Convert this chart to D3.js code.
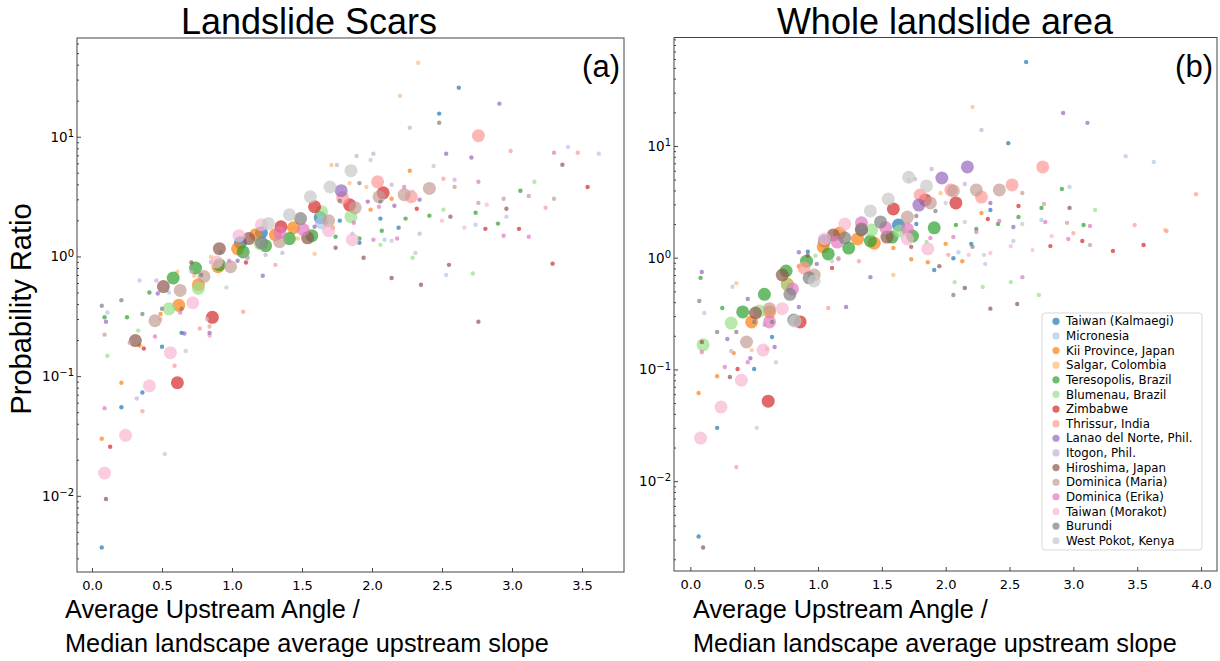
<!DOCTYPE html>
<html>
<head>
<meta charset="utf-8">
<script src="https://cdn.jsdelivr.net/npm/d3@7"></script>
<style>
  body { margin: 0; background: #fff; }
  svg { display: block; }
</style>
</head>
<body>
<div id="chart"></div>
<script>
// sites, in legend order
const sites = ["Taiwan (Kalmaegi)", "Micronesia", "Kii Province, Japan", "Salgar, Colombia",
  "Teresopolis, Brazil", "Blumenau, Brazil", "Zimbabwe", "Thrissur, India",
  "Lanao del Norte, Phil.", "Itogon, Phil.", "Hiroshima, Japan", "Dominica (Maria)",
  "Dominica (Erika)", "Taiwan (Morakot)", "Burundi", "West Pokot, Kenya"];

const siteColors = ["#1f77b4", "#aec7e8", "#ff7f0e", "#ffbb78", "#2ca02c", "#98df8a", "#d62728", "#ff9896",
  "#9467bd", "#c5b0d5", "#8c564b", "#c49c94", "#e377c2", "#f7b6d2", "#7f7f7f", "#c7c7c7"];

// [angle ratio, probability ratio, large marker?] per site, panel (a)
const scarsPoints = [
  [[1.63,2.11,1],[1.21,1.58,1],[1.06,1.30,1],[2.62,25.7,0],[2.48,15.6,0],[1.77,1.99,0],[2.06,2.07,0],[2.19,1.74,0],[1.91,1.30,0],[0.64,0.23,0],[0.50,0.176,0],[0.36,0.073,0],[0.21,0.055,0],[0.07,0.0037,0]],
  [[1.64,1.91,1],[3.40,8.2,0],[3.62,7.2,0],[2.96,2.15,0],[2.74,1.84,0],[2.31,1.07,0],[2.53,0.70,0],[2.09,1.38,0],[1.86,1.55,0],[0.11,0.34,0],[0.34,0.63,0],[0.55,0.50,0]],
  [[1.44,1.74,1],[1.31,1.52,1],[1.17,1.52,1],[1.04,1.16,1],[0.90,0.82,1],[0.76,0.58,1],[0.62,0.39,1],[2.14,3.03,0],[1.99,2.46,0],[2.27,5.2,0],[1.72,1.74,0],[0.49,0.33,0],[0.34,0.18,0],[0.21,0.088,0],[0.07,0.030,0]],
  [[2.33,41.5,0],[2.20,22,0],[1.71,5.8,0],[1.84,4.1,0],[1.96,3.8,0],[1.59,1.05,0],[0.61,0.745,0],[0.73,0.69,0],[0.85,0.99,0],[0.49,0.30,0],[1.47,1.41,0]],
  [[1.57,1.49,1],[1.41,1.41,1],[1.24,1.23,1],[1.08,1.09,1],[0.91,0.85,1],[0.74,0.80,1],[0.58,0.66,1],[3.06,3.54,0],[2.41,2.19,0],[2.24,2.07,0],[2.74,2.32,0],[2.90,1.88,0],[2.07,1.64,0],[1.74,1.46,0],[1.91,1.41,0],[0.09,0.31,0],[0.25,0.31,0],[0.41,0.50,0]],
  [[1.85,2.15,1],[1.64,2.36,1],[1.20,1.28,1],[0.76,0.54,1],[0.55,0.365,1],[3.16,4.2,0],[2.51,2.46,0],[2.06,1.25,0],[2.29,0.975,0],[2.72,0.72,0],[0.33,0.24,0],[0.11,0.148,0]],
  [[2.08,3.4,1],[1.84,2.7,1],[1.59,2.6,1],[1.35,1.77,1],[0.86,0.31,1],[0.61,0.088,1],[3.54,3.8,0],[2.32,2.5,0],[2.81,1.70,0],[3.05,1.70,0],[3.29,0.87,0],[1.10,0.89,0],[0.37,0.17,0],[0.13,0.0257,0]],
  [[2.76,10.2,1],[2.04,4.2,1],[1.79,3.09,1],[2.28,3.15,1],[2.99,7.6,0],[3.47,7.35,0],[2.51,4.46,0],[3.24,2.55,0],[1.08,0.345,0],[1.31,0.85,0],[0.77,0.25,0],[0.84,0.26,0],[0.84,0.218,0],[0.36,0.051,0],[0.59,0.122,0]],
  [[1.78,3.54,1],[2.91,18.9,0],[2.53,7.2,0],[2.71,6.7,0],[1.97,2.87,0],[2.16,2.65,0],[2.34,2.98,0],[1.59,1.77,0],[0.10,0.285,0],[0.47,0.49,0],[1.04,0.92,0],[1.22,0.69,0],[0.66,0.227,0],[0.84,0.23,0]],
  [[2.27,11.9,0],[1.89,6.9,0],[2.01,7.2,0],[1.75,5.8,0],[2.59,4.37,0],[2.14,3.97,0],[2.34,1.55,0],[0.46,0.63,0],[0.71,0.745,0],[0.85,0.90,0],[1.24,1.03,0],[1.36,1.07,0],[0.32,0.065,0]],
  [[1.54,1.43,1],[1.12,1.41,1],[0.91,1.16,1],[0.51,0.56,1],[0.31,0.198,1],[3.36,5.84,0],[2.96,2.5,0],[2.56,2.15,0],[1.74,1.18,0],[1.94,0.975,0],[2.55,0.85,0],[2.14,0.66,0],[2.35,0.58,0],[2.76,0.285,0],[0.10,0.0094,0],[0.71,0.89,0]],
  [[2.05,3.15,1],[1.88,2.55,1],[1.69,1.99,1],[1.34,1.33,1],[0.99,0.82,1],[0.80,0.68,1],[0.63,0.52,1],[0.45,0.29,1],[2.41,3.7,1],[2.23,3.28,1],[2.59,3.8,0],[3.12,3.2,0],[2.94,3.03,0],[3.30,3.03,0],[2.76,2.8,0],[0.09,0.222,0],[0.27,0.19,0],[1.10,1.01,0]],
  [[1.51,1.67,1],[1.34,1.58,1],[3.30,7.35,0],[2.76,4.2,0],[2.23,3.8,0],[2.05,2.6,0],[1.87,1.91,0],[2.94,1.49,0],[3.12,1.46,0],[2.01,1.38,0],[2.18,1.41,0],[0.63,0.34,0],[0.98,0.92,0],[0.45,0.214,0],[0.09,0.054,0]],
  [[1.86,1.38,1],[1.69,1.64,1],[1.21,1.84,1],[1.05,1.49,1],[0.89,0.90,1],[0.72,0.41,1],[0.56,0.157,1],[0.41,0.083,1],[0.24,0.032,1],[0.09,0.0155,1],[2.82,2.7,0],[2.50,1.99,0],[2.66,1.74,0]],
  [[1.49,2.07,1],[1.21,1.30,1],[2.48,13.1,0],[1.91,4.1,0],[1.77,2.92,0],[2.06,2.87,0],[0.07,0.387,0],[0.21,0.43,0],[0.36,0.33,0],[0.50,0.365,0],[0.64,0.365,0],[0.78,0.70,0],[0.92,1.09,0],[1.11,0.975,0]],
  [[1.85,5.2,1],[1.70,3.8,1],[1.56,3.15,1],[1.41,2.23,1],[1.26,1.88,1],[2.44,5.7,0],[1.99,6.4,0],[2.29,3.47,0],[2.14,1.35,0],[0.96,0.55,0],[0.67,0.162,0],[0.52,0.0224,0],[0.82,0.30,0],[1.11,0.96,0]]
];

// same, panel (b)
const wholePoints = [
  [[1.63,1.96,1],[1.05,1.41,1],[2.63,56.5,0],[2.49,10.6,0],[2.35,2.67,0],[2.20,1.33,0],[2.06,0.99,0],[1.91,0.776,0],[0.64,0.195,0],[0.50,0.101,0],[0.21,0.030,0],[0.065,0.0032,0],[0.92,1.13,0],[1.77,2.0,0]],
  [[3.41,8.1,0],[3.63,7.2,0],[2.97,4.3,0],[2.75,2.18,0],[2.53,1.41,0],[2.10,1.12,0],[2.31,0.88,0],[0.11,0.32,0],[0.33,0.55,0]],
  [[1.17,1.66,1],[1.31,1.47,1],[1.44,1.35,1],[1.04,1.25,1],[0.76,0.58,1],[0.62,0.327,1],[0.48,0.266,1],[2.28,2.51,0],[2.0,1.33,0],[1.86,0.91,0],[1.73,0.97,0],[1.59,1.22,0],[2.13,0.93,0],[0.85,0.84,0],[0.34,0.14,0],[0.21,0.087,0],[0.065,0.0615,0]],
  [[2.21,22.3,0],[1.96,3.79,0],[1.71,4.96,0],[0.36,0.59,0],[0.48,0.149,0],[1.59,0.70,0],[3.72,1.77,0]],
  [[1.91,1.85,1],[1.74,1.56,1],[1.58,1.53,1],[1.41,1.41,1],[1.24,1.22,1],[1.08,1.08,1],[0.91,0.93,1],[0.75,0.76,1],[0.58,0.47,1],[0.41,0.327,1],[2.91,4.12,0],[2.75,2.79,0],[2.57,2.31,0],[3.08,1.96,0],[2.24,1.81,0],[2.08,1.96,0],[2.41,2.0,0],[0.08,0.66,0],[0.25,0.355,0]],
  [[1.42,1.77,1],[1.64,1.73,1],[0.76,0.57,1],[0.54,0.333,1],[0.32,0.26,1],[0.10,0.166,1],[3.17,2.67,0],[2.07,0.605,0],[2.29,0.547,0],[2.51,0.605,0],[2.73,0.464,0],[1.85,1.38,0],[0.98,1.04,0]],
  [[1.84,3.29,1],[1.59,2.73,1],[2.08,3.09,1],[0.86,0.266,1],[0.61,0.052,1],[2.57,2.9,0],[2.33,2.22,0],[2.82,1.27,0],[3.07,1.41,0],[3.31,1.15,0],[3.55,1.3,0],[1.11,0.81,0],[0.37,0.101,0]],
  [[2.76,6.49,1],[2.52,4.48,1],[2.28,3.49,1],[2.04,4.04,1],[1.80,3.64,1],[0.89,0.81,1],[3.96,3.7,0],[3.48,1.96,0],[3.73,1.73,0],[3.0,1.66,0],[1.08,0.355,0],[1.32,0.93,0],[2.02,1.06,0],[0.60,0.152,0],[0.36,0.0134,0]],
  [[2.17,6.49,1],[1.97,5.17,1],[1.79,2.96,1],[2.92,19.7,0],[3.11,16.1,0],[2.35,3.09,0],[2.53,1.88,0],[0.85,0.362,0],[1.22,0.362,0],[1.41,0.67,0],[0.99,0.88,0],[0.85,1.12,0],[0.45,0.427,0],[0.09,0.745,0],[0.29,0.187,0],[0.66,0.159,0],[0.47,0.126,0]],
  [[2.28,13.9,0],[1.89,6.22,0],[2.15,4.57,0],[1.76,5.07,0],[1.16,0.97,0],[0.58,0.25,0],[0.32,0.146,0]],
  [[1.12,1.6,1],[1.54,1.53,1],[1.34,1.77,1],[0.72,0.70,1],[0.51,0.32,1],[2.97,2.79,0],[2.15,0.535,0],[2.35,0.35,0],[2.56,0.385,0],[1.95,0.84,0],[1.73,1.25,0],[0.92,1.04,0],[0.09,0.176,0],[0.31,0.0855,0],[0.10,0.00255,0]],
  [[2.24,4.04,1],[2.42,4.04,1],[2.06,3.96,1],[1.88,3.09,1],[1.70,2.31,1],[0.97,0.70,1],[0.62,0.35,1],[0.44,0.176,1],[2.60,3.79,0],[2.77,3.03,0],[2.95,2.05,0],[3.13,1.3,0],[1.16,0.99,0]],
  [[1.34,2.05,1],[1.15,1.38,1],[1.70,1.81,1],[0.80,0.525,1],[0.62,0.266,1],[1.53,1.85,1],[2.42,2.13,0],[2.24,1.70,0],[2.06,1.53,0],[1.88,1.50,0],[2.78,2.09,0],[2.96,1.47,0],[3.13,1.92,0],[2.60,0.67,0],[0.09,0.143,0],[0.27,0.105,0],[0.45,0.116,0]],
  [[1.21,2.0,1],[1.86,1.2,1],[1.70,1.47,1],[1.05,1.47,1],[0.72,0.35,1],[0.57,0.149,1],[0.40,0.080,1],[0.24,0.046,1],[0.08,0.0243,1],[2.83,1.56,0],[2.68,1.17,0],[2.51,1.27,0],[2.35,1.1,0],[2.18,1.06,0]],
  [[1.49,2.09,1],[1.34,1.81,1],[1.21,1.5,1],[0.93,0.66,1],[0.78,0.47,1],[0.81,0.277,1],[1.92,2.62,0],[1.77,2.36,0],[2.21,1.25,0],[2.06,0.464,0],[0.07,0.41,0],[0.21,0.216,0],[0.36,0.216,0],[0.50,0.266,0],[0.64,0.266,0]],
  [[1.71,5.25,1],[1.85,4.39,1],[1.55,3.35,1],[1.41,2.62,1],[0.97,0.62,1],[0.82,0.271,1],[2.0,3.09,0],[2.15,2.09,0],[2.60,2.0,0],[2.30,1.06,0],[1.11,0.93,0],[0.67,0.116,0],[0.52,0.030,0]]
];

const scarsXTicks = [0, 0.5, 1, 1.5, 2, 2.5, 3, 3.5];
const wholeXTicks = [0, 0.5, 1, 1.5, 2, 2.5, 3, 3.5, 4];
const yTicks = [0.01, 0.1, 1, 10];

const W = 1220, H = 661;
const svg = d3.select("#chart").append("svg")
  .attr("width", W).attr("height", H)
  .style("font-family", "'Liberation Sans', Arial, sans-serif");

const tickFont = "'DejaVu Sans', sans-serif";

function drawPanel(p) {
  const x = d3.scaleLinear().domain(p.xDomain).range([p.left, p.right]);
  const y = d3.scaleLog().domain(p.yDomain).range([p.bottom, p.top]);
  const g = svg.append("g");

  // minor log ticks
  const minor = [];
  for (let k = -4; k <= 2; k++) {
    for (let m = 2; m <= 9; m++) {
      const v = m * Math.pow(10, k);
      if (v > p.yDomain[0] && v < p.yDomain[1]) minor.push(v);
    }
  }
  g.append("g")
    .attr("transform", `translate(${p.left},0)`)
    .call(d3.axisLeft(y).tickValues(minor).tickSize(-2).tickFormat(""))
    .call(s => s.select(".domain").remove())
    .call(s => s.selectAll("line").attr("stroke", "#444"));

  const yAxis = g.append("g")
    .attr("transform", `translate(${p.left},0)`)
    .call(d3.axisLeft(y).tickValues(yTicks).tickSize(-4).tickPadding(3).tickFormat(""))
    .call(s => s.select(".domain").remove())
    .call(s => s.selectAll("line").attr("stroke", "#444"));
  yAxis.selectAll(".tick text")
    .attr("font-family", tickFont).attr("font-size", 13.5).attr("fill", "#000")
    .each(function(d) {
      const e = Math.round(Math.log10(d));
      const t = d3.select(this);
      t.append("tspan").text("10");
      t.append("tspan").attr("dy", "-0.45em").attr("font-size", 10)
        .text(e < 0 ? "\u2212" + (-e) : String(e));
    });

  g.append("g")
    .attr("transform", `translate(0,${p.bottom})`)
    .call(d3.axisBottom(x).tickValues(p.xTicks).tickSize(-4).tickPadding(9).tickFormat(d3.format(".1f")))
    .call(s => s.select(".domain").remove())
    .call(s => s.selectAll("line").attr("stroke", "#444"))
    .call(s => s.selectAll("text").attr("font-family", tickFont).attr("font-size", 13).attr("fill", "#000"));

  // points, site by site
  p.points.forEach((pts, i) => {
    g.append("g").selectAll("circle")
      .data(pts)
      .join("circle")
      .attr("cx", d => x(d[0]))
      .attr("cy", d => y(d[1]))
      .attr("r", d => d[2] ? 6.5 : 2.2)
      .attr("fill", siteColors[i])
      .attr("fill-opacity", 0.7);
  });

  g.append("rect")
    .attr("x", p.left).attr("y", p.top)
    .attr("width", p.right - p.left).attr("height", p.bottom - p.top)
    .attr("fill", "none").attr("stroke", "#444").attr("stroke-width", 1);

  g.append("text")
    .attr("x", p.titleX).attr("y", 34)
    .attr("text-anchor", "middle").attr("font-size", 36)
    .text(p.title);

  g.append("text")
    .attr("x", p.right - 4).attr("y", 77)
    .attr("text-anchor", "end").attr("font-size", 31)
    .text(p.tag);

  g.append("text")
    .attr("x", p.xLabelX).attr("y", 618).attr("font-size", 25.3)
    .text("Average Upstream Angle /");
  g.append("text")
    .attr("x", p.xLabelX).attr("y", 652).attr("font-size", 25.3)
    .text("Median landscape average upstream slope");
}

drawPanel({
  left: 77, right: 624, top: 38, bottom: 572,
  xDomain: [-0.107, 3.8], yDomain: [0.00231, 66.8],
  xTicks: scarsXTicks, points: scarsPoints,
  title: "Landslide Scars", titleX: 309, tag: "(a)", xLabelX: 65
});

drawPanel({
  left: 674, right: 1217, top: 37.5, bottom: 571,
  xDomain: [-0.128, 4.125], yDomain: [0.00157, 93.5],
  xTicks: wholeXTicks, points: wholePoints,
  title: "Whole landslide area", titleX: 945, tag: "(b)", xLabelX: 693
});

svg.append("text")
  .attr("transform", "translate(31,309) rotate(-90)")
  .attr("text-anchor", "middle").attr("font-size", 29)
  .text("Probability Ratio");

// legend (panel b)
const legend = svg.append("g").style("font-family", tickFont);
legend.append("rect")
  .attr("x", 1042).attr("y", 313).attr("width", 160).attr("height", 237)
  .attr("rx", 3).attr("fill", "#fff").attr("fill-opacity", 0.8)
  .attr("stroke", "#d9d9d9");
const item = legend.selectAll("g.item")
  .data(sites)
  .join("g")
  .attr("class", "item")
  .attr("transform", (d, i) => `translate(1056,${321.3 + i * 14.63})`);
item.append("circle").attr("r", 3.6)
  .attr("fill", (d, i) => siteColors[i]).attr("fill-opacity", 0.7);
item.append("text").attr("x", 10).attr("dy", "0.35em")
  .attr("font-size", 11.8).text(d => d);
</script>
</body>
</html>
